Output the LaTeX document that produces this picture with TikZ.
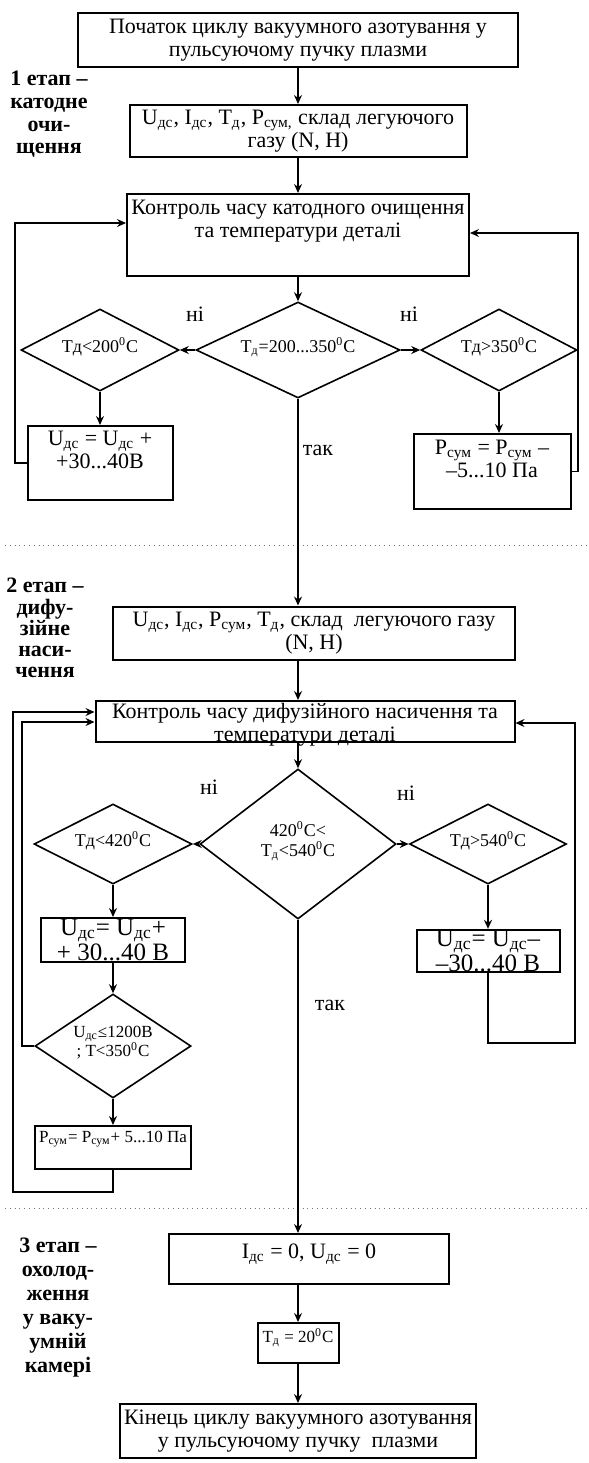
\documentclass[tikz,border=0pt]{standalone}
\usepackage{fontspec}
\setmainfont{Liberation Serif}
\usetikzlibrary{arrows.meta,shapes.geometric}

\begin{document}
\begin{tikzpicture}[x=0.5pt, y=-0.5pt,
  box/.style     = {draw, line width=1pt, inner xsep=2pt, inner ysep=1pt, align=center,
                    font=\fontsize{11}{11.5}\selectfont},
  topbox/.style  = {box, anchor=north, inner ysep=2pt, text depth=#1},
  dia/.style     = {draw, diamond, line width=0.8pt, inner sep=0pt, align=center,
                    text depth=5pt, font=\fontsize{9}{10}\selectfont},
  small/.style   = {font=\fontsize{8.5}{9.5}\selectfont},
  flow/.style    = {line width=0.8pt, -{Stealth[length=4.5pt,width=4pt,inset=1.5pt]}},
  stage/.style   = {align=center, inner sep=0pt, anchor=north},
  answ/.style    = {font=\fontsize{11}{11}\selectfont, inner sep=0pt},
  sepline/.style = {dotted, thin, black!55},
]
  \useasboundingbox (0,0) rectangle (589,1463);

  % stage 1: cathode cleaning
  \node[box, minimum width=220pt, minimum height=27pt] (start) at (298,40)
    {Початок циклу вакуумного азотування у\\ пульсуючому пучку плазми};
  \node[box, minimum width=168.5pt, minimum height=26pt] (par1) at (298,131)
    {U\textsubscript{дс}, I\textsubscript{дс}, T\textsubscript{д}, P\textsubscript{сум,} склад легуючого\\ газу (N, H)};
  \node[topbox=17.5pt, text height=19.5pt, minimum width=171pt] (ctrl1) at (298,193)
    {Контроль часу катодного очищення\\ та температури деталі};
  \node[dia, aspect=2.12, minimum width=102pt, minimum height=48pt] (dec1) at (298,350)
    {T\textsubscript{д}=200...350\textsuperscript{0}C};
  \node[dia, aspect=1.93, minimum width=79pt, minimum height=41pt] (d1l) at (100,350)
    {Тд<200\textsuperscript{0}C};
  \node[dia, aspect=1.9, minimum width=78pt, minimum height=41pt] (d1r) at (499,350)
    {Тд>350\textsuperscript{0}C};
  \node[topbox=14pt, text height=19pt, minimum width=72.5pt] (u1) at (100,425)
    {U\textsubscript{дс} = U\textsubscript{дс} +\\ +30...40В};
  \node[topbox=14pt, text height=19.5pt, minimum width=78.5pt] (p1) at (492,433)
    {P\textsubscript{сум} = P\textsubscript{сум} –\\ –5...10 Па};

  \node[answ] (no1l) at (195,314) {ні};
  \node[answ] (no1r) at (409,314) {ні};
  \node[answ] (yes1) at (318,450) {так};

  % stage 2: diffusion saturation
  \node[box, minimum width=201pt, minimum height=26.5pt] (par2) at (314,633)
    {U\textsubscript{дс}, I\textsubscript{дс}, P\textsubscript{сум}, T\textsubscript{д}, склад~ легуючого газу\\ (N, H)};
  \node[box, anchor=north, minimum width=209.5pt, inner ysep=0.5pt,
        text height=19.5pt, text depth=0pt] (ctrl2) at (305,700)
    {Контроль часу дифузійного насичення та\\ температури деталі};
  \node[dia, aspect=1.3, minimum width=98pt, minimum height=75pt] (dec2) at (298,844)
    {420\textsuperscript{0}C<\\ T\textsubscript{д}<540\textsuperscript{0}C};
  \node[dia, aspect=1.97, minimum width=79pt, minimum height=40pt] (d2l) at (113,844)
    {Тд<420\textsuperscript{0}C};
  \node[dia, aspect=1.96, minimum width=78.5pt, minimum height=40pt] (d2r) at (488,844)
    {Тд>540\textsuperscript{0}C};
  \node[box, minimum width=72pt, minimum height=22pt, inner ysep=0pt,
        font=\fontsize{12.5}{10.5}\selectfont] (u2) at (113,940)
    {U\textsubscript{дс}= U\textsubscript{дс}+\\ + 30...40 В};
  \node[dia, small, aspect=1.5, minimum width=78pt, minimum height=52pt] (d3) at (113,1046)
    {U\textsubscript{дс}≤1200В\\ ; T<350\textsuperscript{0}C};
  \node[topbox=12.5pt, small, minimum width=73.5pt, inner ysep=1pt, text height=7pt] (p2) at (113,1125)
    {P\textsubscript{сум}= P\textsubscript{сум}+ 5...10 Па};
  \node[box, minimum width=71.5pt, minimum height=21pt, inner ysep=0pt,
        font=\fontsize{12.5}{10.5}\selectfont] (u3) at (488,951)
    {U\textsubscript{дс}= U\textsubscript{дс}–\\ –30...40 В};

  \node[answ] (no2l) at (209,787) {ні};
  \node[answ] (no2r) at (406,793) {ні};
  \node[answ] (yes2) at (330,1005) {так};

  % stage 3: cooling in the vacuum chamber
  \node[topbox=11pt, text height=10pt, minimum width=140pt] (end1) at (309,1233)
    {I\textsubscript{дс} = 0, U\textsubscript{дс} = 0};
  \node[topbox=9pt, small, minimum width=40.5pt, inner ysep=1.5pt, text height=8pt] (t20) at (298,1322)
    {T\textsubscript{д} = 20\textsuperscript{0}C};
  \node[topbox=3.5pt, text height=19.5pt, minimum width=176pt] (fin) at (298,1403)
    {Кінець циклу вакуумного азотування\\ у пульсуючому пучку~ плазми};

  % stage captions on the left
  \node[stage, font=\bfseries\fontsize{11}{11.3}\selectfont] (lab1) at (49,71)
    {1 етап –\\ катодне\\ очи-\\ щення};
  \node[stage, font=\bfseries\fontsize{11}{10.6}\selectfont] (lab2) at (45,578)
    {2 етап –\\ дифу-\\ зійне\\ наси-\\ чення};
  \node[stage, font=\bfseries\fontsize{11}{12}\selectfont] (lab3) at (58,1238)
    {3 етап –\\ охолод-\\ ження\\ у ваку-\\ умній\\ камері};

  % stage borders
  \draw[sepline] (5,545) -- (589,545);
  \draw[sepline] (5,1208) -- (589,1208);

  % stage 1 flow
  \draw[flow] (start) -- (par1);
  \draw[flow] (par1) -- (ctrl1);
  \draw[flow] (ctrl1) -- (dec1);
  \draw[flow] (dec1) -- (d1l);
  \draw[flow] (dec1) -- (d1r);
  \draw[flow] (d1l) -- (u1);
  \draw[flow] (d1r) -- (d1r |- p1.north);
  \draw[flow] (u1.west) -| (15,223) -- (ctrl1.west |- 0,223);
  \draw[flow] (p1.east) -| (578,233) -- (ctrl1.east |- 0,233);
  \draw[flow] (dec1) -- (dec1 |- par2.north);

  % stage 2 flow
  \draw[flow] (dec1 |- par2.south) -- (dec1 |- ctrl2.north);
  \draw[flow] (dec2 |- ctrl2.south) -- (dec2);
  \draw[flow] (dec2) -- (d2l);
  \draw[flow] (dec2) -- (d2r);
  \draw[flow] (d2l) -- (u2);
  \draw[flow] (u2) -- (d3);
  \draw[flow] (d3) -- (p2);
  \draw[flow] (d2r) -- (u3);
  \draw[flow] (d3.west) -| (22,722) -- (ctrl2.west |- 0,722);
  \draw[flow] (p2.south) |- (13,1192) |- (ctrl2.west |- 0,712);
  \draw[flow] (u3.south) |- (575,1043) |- (ctrl2.east |- 0,723);
  \draw[flow] (dec2) -- (dec2 |- end1.north);

  % stage 3 flow
  \draw[flow] (t20 |- end1.south) -- (t20);
  \draw[flow] (t20) -- (fin);
\end{tikzpicture}
\end{document}
